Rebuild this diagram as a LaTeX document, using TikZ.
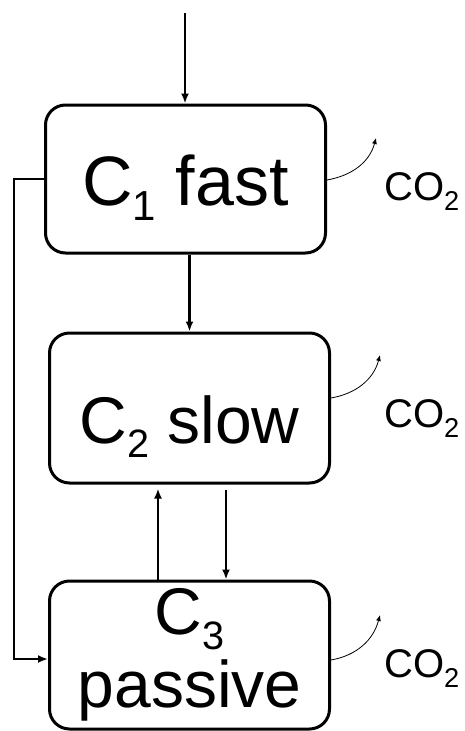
\documentclass[tikz,border=0pt]{standalone}
\usepackage{fontspec}
\setmainfont{Liberation Sans}
\usetikzlibrary{arrows.meta}
\newcommand{\lowsub}[1]{\raisebox{-0.22em}[0pt][0pt]{\scalebox{0.6}{#1}}}
\newcommand{\gassub}[1]{\raisebox{-0.25em}[0pt][0pt]{\scalebox{0.68}{#1}}}

\begin{document}
\begin{tikzpicture}[x=1pt, y=-1pt,
  pool/.style={draw, line width=3pt, rounded corners=20pt, minimum width=280pt, inner sep=0pt, text depth=0pt},
  flow/.style={-{Latex[length=10pt,width=8pt]}, line width=2.3pt},
  resp/.style={-{Latex[length=6pt,width=5pt]}, line width=0.8pt},
  gas/.style={anchor=west, inner sep=0pt, font=\fontsize{40}{42}\selectfont}]
  \useasboundingbox (0,0) rectangle (465,731);

  % Pools
  \node[pool, minimum height=148pt, text height=52pt, font=\fontsize{70}{80}\selectfont] (fast) at (185.5,179) {C\lowsub{1} fast};
  \node[pool, minimum height=150pt, text height=70pt, font=\fontsize{66}{76}\selectfont] (slow) at (189.5,408) {C\lowsub{2} slow};
  \node[pool, minimum height=148pt, text height=, text depth=, align=center, font=\fontsize{66}{73}\selectfont] (passive) at (189.5,655) {C\lowsub{3}\\passive};

  % Input
  \coordinate (input) at (185,13);
  \draw[flow] (input) -- (input |- fast.north);

  % Transfers
  \draw[flow] (fast.south -| slow.north) -- (slow.north);
  \draw[flow, shorten >=4pt] ([xshift=-31.5pt]passive.north) -- ([xshift=-31.5pt]slow.south);
  \draw[flow, shorten <=5pt] ([xshift=36.5pt]slow.south) -- ([xshift=36.5pt]passive.north);
  \draw[flow] (fast.west) -- ++(-30,0) |- ([yshift=-4pt]passive.west);

  % Respiration
  \coordinate (outa) at (376,138);
  \coordinate (outb) at (380,355);
  \coordinate (outc) at (380,615);
  \draw[resp] ([yshift=-1pt]fast.east) to[out=10,in=-105] (outa);
  \draw[resp] ([yshift=10pt]slow.east) to[out=10,in=-105] (outb);
  \draw[resp] ([yshift=-5pt]passive.east) to[out=10,in=-105] (outc);
  \node[gas] (co2a) at (384,187) {CO\gassub{2}};
  \node[gas] (co2b) at (384,414) {CO\gassub{2}};
  \node[gas] (co2c) at (384,664) {CO\gassub{2}};
\end{tikzpicture}
\end{document}
